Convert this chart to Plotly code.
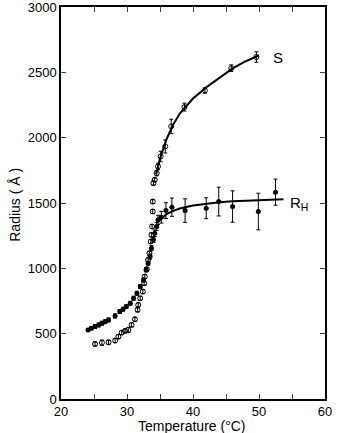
import plotly.graph_objects as go

# S (open circles)
s_temp = [25.15, 26.2, 27.2, 28.2, 28.7, 29.2, 29.7, 30.2, 30.7, 31.2, 31.6, 31.7, 32.0, 32.4, 32.6,
          32.7, 33.0, 33.2, 33.4, 33.6, 33.7, 33.8, 33.9, 33.9, 34.0, 34.2, 34.5, 34.7, 35.1, 35.8,
          36.7, 38.7, 41.8, 45.8, 49.6]
s_val = [421, 431, 434, 447, 477, 508, 521, 528, 567, 610, 682, 720, 771, 822, 886,
         937, 993, 1064, 1115, 1205, 1256, 1320, 1435, 1511, 1652, 1677, 1728, 1780, 1856, 1933,
         2086, 2234, 2361, 2532, 2617]
s_err = [15, 20, 15, 15, 15, 15, 15, 20, 15, 15, 15, 15, 15, 15, 15,
         15, 15, 15, 15, 15, 15, 15, 15, 15, 15, 15, 20, 25, 40, 50,
         55, 30, 20, 25, 40]

# R_H (filled circles)
r_temp = [24.1, 24.6, 25.15, 25.7, 26.2, 26.7, 27.2, 28.2, 28.9, 29.4, 29.9, 30.5, 31.0, 31.5, 32.0,
          32.5, 32.9, 33.2, 33.5, 33.7, 34.0, 34.2, 34.5, 34.7, 35.2, 35.9, 36.8, 38.8, 42.0, 43.9,
          46.0, 49.9, 52.5]
r_val = [528, 541, 554, 567, 580, 592, 605, 636, 669, 687, 707, 733, 771, 809, 860,
         911, 988, 1039, 1090, 1154, 1218, 1269, 1320, 1371, 1391, 1442, 1468, 1442, 1460, 1511,
         1473, 1435, 1583]
r_err = [12, 12, 15, 15, 15, 15, 15, 15, 15, 15, 15, 15, 15, 15, 15,
         15, 15, 15, 20, 20, 20, 25, 30, 35, 45, 60, 70, 90, 80, 110,
         120, 140, 100]

# smooth fitted curves
s_fit_t = [34.4, 35.0, 36.0, 37.0, 38.0, 40.0, 42.0, 44.0, 46.0, 48.0, 50.0]
s_fit_v = [1720, 1840, 1990, 2100, 2185, 2300, 2385, 2460, 2530, 2585, 2630]
r_fit_t = [34.8, 35.5, 36.0, 37.0, 38.0, 40.0, 42.0, 44.0, 46.0, 50.0, 53.7]
r_fit_v = [1360, 1395, 1415, 1440, 1458, 1480, 1495, 1505, 1513, 1522, 1528]

x_ticks = [20, 30, 40, 50, 60]
y_ticks = [0, 500, 1000, 1500, 2000, 2500, 3000]

font = "Liberation Sans, Arial, sans-serif"

fig = go.Figure()
fig.add_trace(go.Scatter(x=s_fit_t, y=s_fit_v, mode="lines", line=dict(color="black", width=2), hoverinfo="skip"))
fig.add_trace(go.Scatter(x=r_fit_t, y=r_fit_v, mode="lines", line=dict(color="black", width=2), hoverinfo="skip"))
fig.add_trace(go.Scatter(
    x=r_temp, y=r_val, mode="markers",
    marker=dict(symbol="circle", size=5, color="black"),
    error_y=dict(type="data", array=r_err, color="black", thickness=1, width=2),
))
fig.add_trace(go.Scatter(
    x=s_temp, y=s_val, mode="markers",
    marker=dict(symbol="circle-open", size=5, color="black", line=dict(width=1)),
    error_y=dict(type="data", array=s_err, color="black", thickness=1, width=2),
))

fig.add_annotation(x=52.9, y=2614, text="S", showarrow=False, xanchor="center", yanchor="middle",
                   font=dict(family=font, size=15, color="black"))
fig.add_annotation(x=54.4, y=1500, text="R<sub>H</sub>", showarrow=False, xanchor="left", yanchor="middle",
                   font=dict(family=font, size=15, color="black"))

# axis titles as annotations for exact placement
fig.add_annotation(xref="paper", yref="paper", x=0.495, y=-0.069, text="Temperature (°C)",
                   showarrow=False, xanchor="center", yanchor="middle",
                   font=dict(family=font, size=14, color="black"))
fig.add_annotation(xref="paper", yref="paper", x=-0.175, y=0.495, text="Radius ( Å )",
                   showarrow=False, xanchor="center", yanchor="middle", textangle=-90,
                   font=dict(family=font, size=14, color="black"))

fig.update_layout(
    width=340, height=433,
    margin=dict(l=61, r=15, t=7, b=34),
    paper_bgcolor="white", plot_bgcolor="white",
    showlegend=False,
    font=dict(family=font, size=12, color="black"),
    xaxis=dict(range=[20, 60], tickvals=x_ticks, ticktext=[str(v) for v in x_ticks],
               ticks="inside", ticklen=5, tickwidth=1, mirror="ticks", automargin=False,
               ticklabeloverflow="allow",
               showline=True, linecolor="black", linewidth=1.5, showgrid=False, zeroline=False,
               minor=dict(dtick=5, tick0=20, ticks="inside", ticklen=5, tickwidth=1),
               tickfont=dict(size=13)),
    yaxis=dict(range=[0, 3000], tickvals=y_ticks, ticktext=[str(v) for v in y_ticks],
               ticks="inside", ticklen=5, tickwidth=1, mirror="ticks", automargin=False,
               ticklabeloverflow="allow",
               showline=True, linecolor="black", linewidth=1.5, showgrid=False, zeroline=False,
               tickfont=dict(size=13)),
)

fig.write_html("out.html", config={"displayModeBar": False},
               post_script="document.body.style.margin='0';document.body.style.overflow='hidden';")
